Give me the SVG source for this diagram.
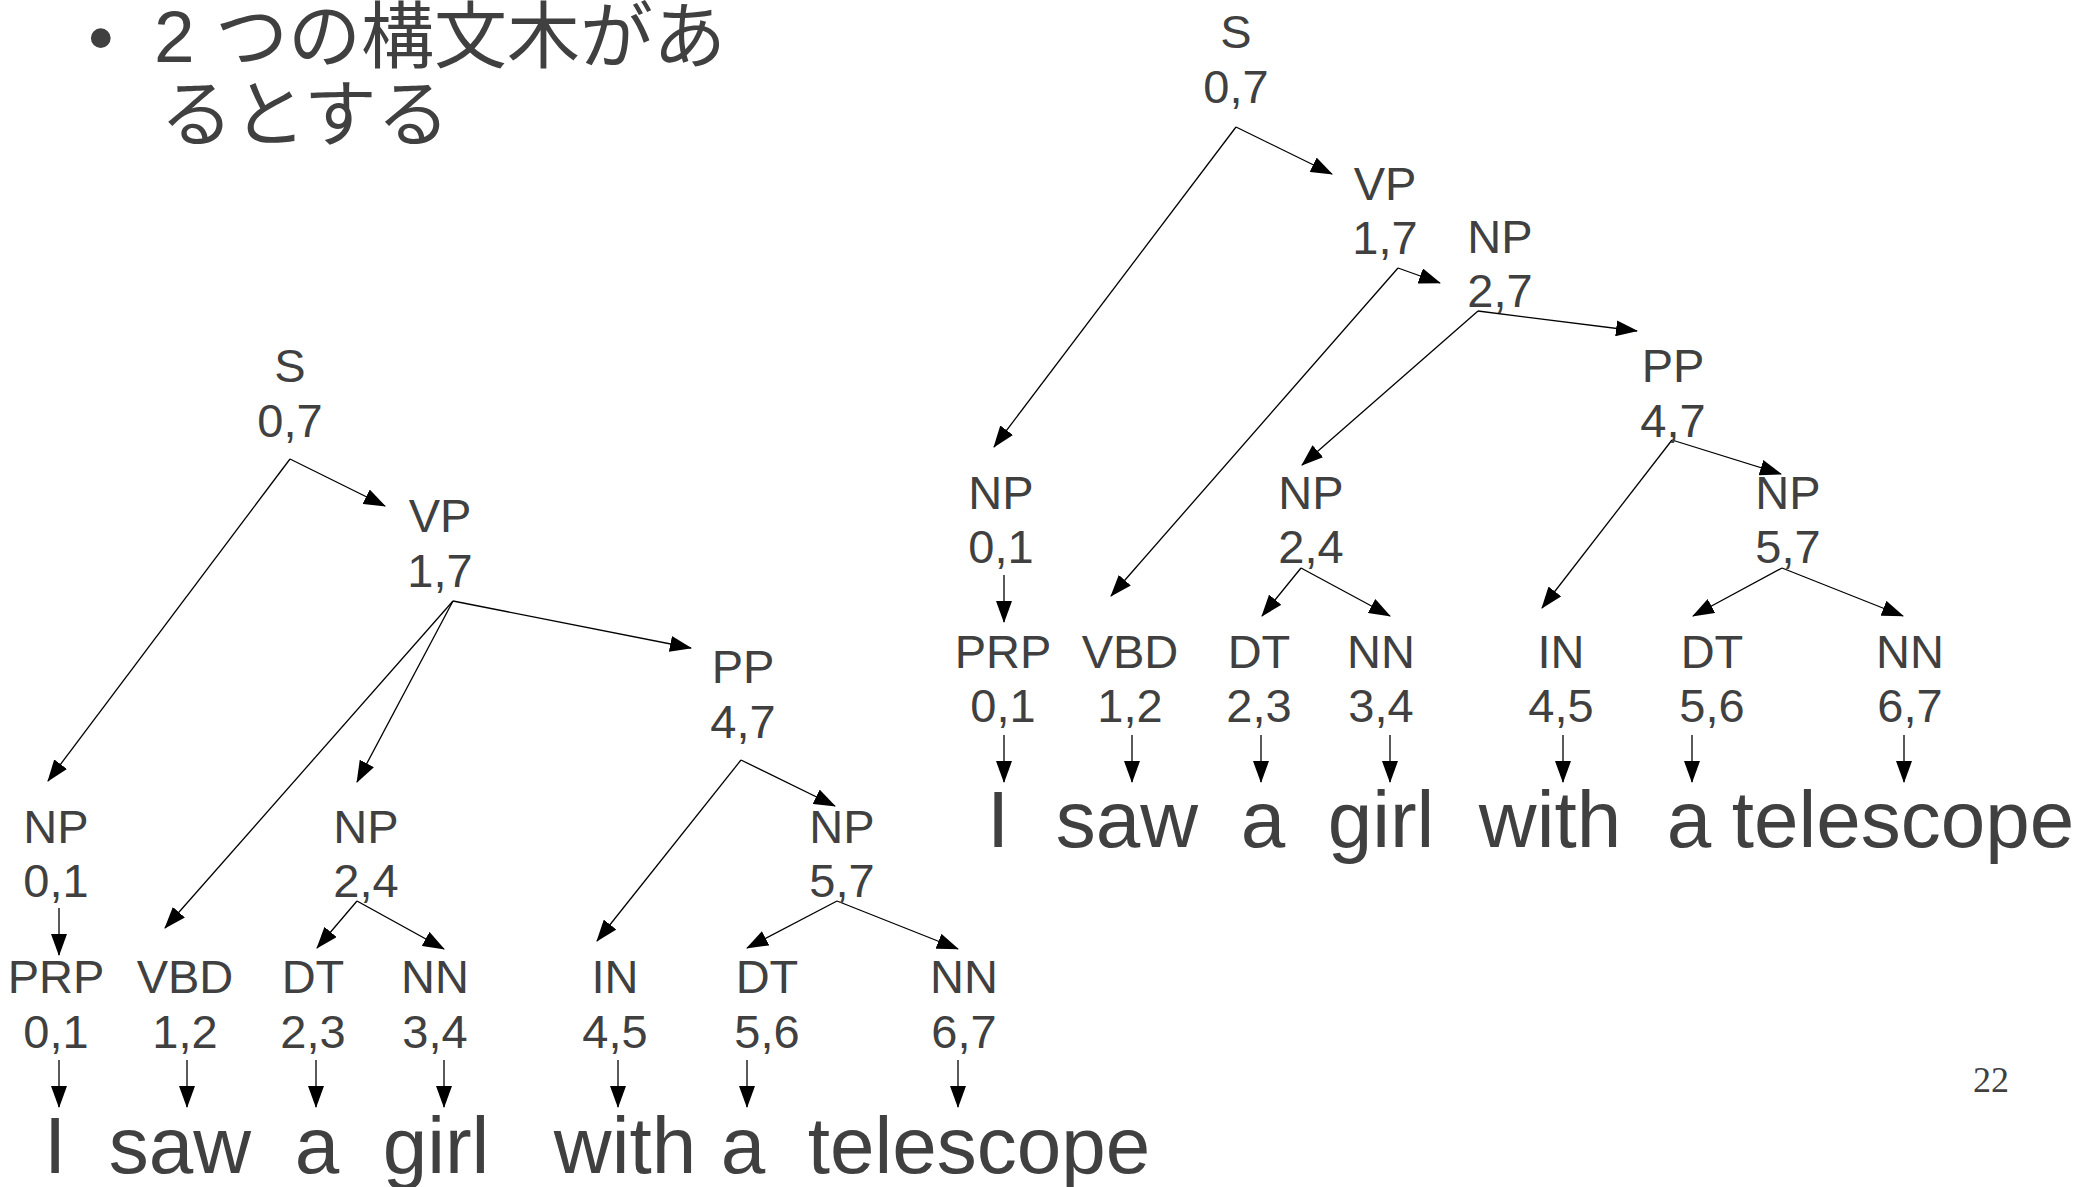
<svg xmlns="http://www.w3.org/2000/svg" width="2078" height="1187" viewBox="0 0 2078 1187">
<defs>
<marker id="ah" markerUnits="userSpaceOnUse" markerWidth="22" markerHeight="16" viewBox="0 0 22 16" refX="21" refY="8" orient="auto">
<path d="M0,0 L22,8 L0,16 z" fill="#000"/>
</marker>
</defs>
<style>
text{fill:#404040;font-family:"Liberation Sans",Arial,sans-serif}
.n{font-size:47px;text-anchor:middle}
.w{font-size:80px;text-anchor:middle}
.t{font-size:73px;font-family:"Liberation Sans","Noto Sans CJK JP",sans-serif}
.pg{font-size:36px;font-family:"Liberation Serif",serif;text-anchor:middle}
#edges line{stroke:#000;stroke-width:1.3;marker-end:url(#ah)}
</style>
<rect width="2078" height="1187" fill="#fff"/>
<g id="title">
<text class="t" x="88" y="62">•</text>
<text class="t" x="154" y="62">2 つの構文木があ</text>
<text class="t" x="160" y="140">るとする</text>
</g>
<text class="pg" x="1991" y="1092">22</text>

<g id="edges">
<line x1="290" y1="459" x2="48" y2="781"/>
<line x1="290" y1="459" x2="385" y2="506"/>
<line x1="453" y1="601" x2="165" y2="928"/>
<line x1="453" y1="601" x2="357" y2="782"/>
<line x1="453" y1="601" x2="691" y2="648"/>
<line x1="741" y1="760" x2="597" y2="941"/>
<line x1="741" y1="760" x2="835" y2="806"/>
<line x1="59" y1="908" x2="59" y2="955"/>
<line x1="357" y1="901" x2="317" y2="948"/>
<line x1="357" y1="901" x2="444" y2="949"/>
<line x1="837" y1="901" x2="747" y2="948"/>
<line x1="837" y1="901" x2="958" y2="949"/>
<line x1="59" y1="1060" x2="59" y2="1107"/>
<line x1="187" y1="1060" x2="187" y2="1107"/>
<line x1="316" y1="1060" x2="316" y2="1107"/>
<line x1="444" y1="1060" x2="444" y2="1107"/>
<line x1="618" y1="1060" x2="618" y2="1107"/>
<line x1="747" y1="1060" x2="747" y2="1107"/>
<line x1="958" y1="1060" x2="958" y2="1107"/>

<line x1="1236" y1="127" x2="994" y2="447"/>
<line x1="1236" y1="127" x2="1332" y2="174"/>
<line x1="1398" y1="268" x2="1111" y2="596"/>
<line x1="1398" y1="268" x2="1440" y2="283"/>
<line x1="1478" y1="311" x2="1302" y2="465"/>
<line x1="1478" y1="311" x2="1637" y2="331"/>
<line x1="1672" y1="440" x2="1542" y2="608"/>
<line x1="1672" y1="440" x2="1781" y2="474"/>
<line x1="1004" y1="575" x2="1004" y2="622"/>
<line x1="1301" y1="568" x2="1262" y2="616"/>
<line x1="1301" y1="568" x2="1390" y2="616"/>
<line x1="1782" y1="568" x2="1693" y2="616"/>
<line x1="1782" y1="568" x2="1903" y2="616"/>
<line x1="1004" y1="735" x2="1004" y2="782"/>
<line x1="1132" y1="735" x2="1132" y2="782"/>
<line x1="1261" y1="735" x2="1261" y2="782"/>
<line x1="1390" y1="735" x2="1390" y2="782"/>
<line x1="1563" y1="735" x2="1563" y2="782"/>
<line x1="1692" y1="735" x2="1692" y2="782"/>
<line x1="1904" y1="735" x2="1904" y2="782"/>
</g>

<g id="L_S"><text class="n" x="290" y="382">S</text><text class="n" x="290" y="437">0,7</text></g>
<g id="L_VP"><text class="n" x="440" y="532">VP</text><text class="n" x="440" y="587">1,7</text></g>
<g id="L_PP"><text class="n" x="743" y="683">PP</text><text class="n" x="743" y="738">4,7</text></g>
<g id="L_NP01"><text class="n" x="56" y="843">NP</text><text class="n" x="56" y="897">0,1</text></g>
<g id="L_NP24"><text class="n" x="366" y="843">NP</text><text class="n" x="366" y="897">2,4</text></g>
<g id="L_NP57"><text class="n" x="842" y="843">NP</text><text class="n" x="842" y="897">5,7</text></g>
<g id="L_PRP"><text class="n" x="56" y="993">PRP</text><text class="n" x="56" y="1048">0,1</text></g>
<g id="L_VBD"><text class="n" x="185" y="993">VBD</text><text class="n" x="185" y="1048">1,2</text></g>
<g id="L_DT23"><text class="n" x="313" y="993">DT</text><text class="n" x="313" y="1048">2,3</text></g>
<g id="L_NN34"><text class="n" x="435" y="993">NN</text><text class="n" x="435" y="1048">3,4</text></g>
<g id="L_IN"><text class="n" x="615" y="993">IN</text><text class="n" x="615" y="1048">4,5</text></g>
<g id="L_DT56"><text class="n" x="767" y="993">DT</text><text class="n" x="767" y="1048">5,6</text></g>
<g id="L_NN67"><text class="n" x="964" y="993">NN</text><text class="n" x="964" y="1048">6,7</text></g>
<g id="L_words">
<text class="w" x="55" y="1173">I</text>
<text class="w" x="180" y="1173">saw</text>
<text class="w" x="317" y="1173">a</text>
<text class="w" x="436" y="1173">girl</text>
<text class="w" x="625" y="1173">with</text>
<text class="w" x="743" y="1173">a</text>
<text class="w" x="979" y="1173">telescope</text>
</g>

<g id="R_S"><text class="n" x="1236" y="48">S</text><text class="n" x="1236" y="103">0,7</text></g>
<g id="R_VP"><text class="n" x="1385" y="200">VP</text><text class="n" x="1385" y="254">1,7</text></g>
<g id="R_NP27"><text class="n" x="1500" y="253">NP</text><text class="n" x="1500" y="307">2,7</text></g>
<g id="R_PP"><text class="n" x="1673" y="382">PP</text><text class="n" x="1673" y="437">4,7</text></g>
<g id="R_NP01"><text class="n" x="1001" y="509">NP</text><text class="n" x="1001" y="563">0,1</text></g>
<g id="R_NP24"><text class="n" x="1311" y="509">NP</text><text class="n" x="1311" y="563">2,4</text></g>
<g id="R_NP57"><text class="n" x="1788" y="509">NP</text><text class="n" x="1788" y="563">5,7</text></g>
<g id="R_PRP"><text class="n" x="1003" y="668">PRP</text><text class="n" x="1003" y="722">0,1</text></g>
<g id="R_VBD"><text class="n" x="1130" y="668">VBD</text><text class="n" x="1130" y="722">1,2</text></g>
<g id="R_DT23"><text class="n" x="1259" y="668">DT</text><text class="n" x="1259" y="722">2,3</text></g>
<g id="R_NN34"><text class="n" x="1381" y="668">NN</text><text class="n" x="1381" y="722">3,4</text></g>
<g id="R_IN"><text class="n" x="1561" y="668">IN</text><text class="n" x="1561" y="722">4,5</text></g>
<g id="R_DT56"><text class="n" x="1712" y="668">DT</text><text class="n" x="1712" y="722">5,6</text></g>
<g id="R_NN67"><text class="n" x="1910" y="668">NN</text><text class="n" x="1910" y="722">6,7</text></g>
<g id="R_words">
<text class="w" x="998" y="847">I</text>
<text class="w" x="1127" y="847">saw</text>
<text class="w" x="1263" y="847">a</text>
<text class="w" x="1381" y="847">girl</text>
<text class="w" x="1550" y="847">with</text>
<text class="w" x="1689" y="847">a</text>
<text class="w" x="1903" y="847">telescope</text>
</g>
</svg>
